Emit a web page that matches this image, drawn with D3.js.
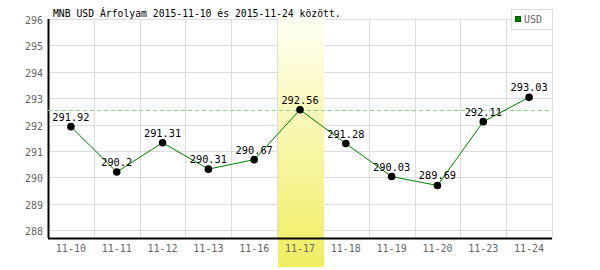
<!DOCTYPE html>
<html>
<head>
<meta charset="utf-8">
<script src="https://cdn.jsdelivr.net/npm/d3@7"></script>
<style>
  body { margin: 0; background: #fff; }
  svg text { font-family: "DejaVu Sans Mono", monospace; font-size: 10px; }
</style>
</head>
<body>
<div id="chart"></div>
<script>
// data
var days = ["11-10", "11-11", "11-12", "11-13", "11-16", "11-17", "11-18", "11-19", "11-20", "11-23", "11-24"];
var rates = [291.92, 290.2, 291.31, 290.31, 290.67, 292.56, 291.28, 290.03, 289.69, 292.11, 293.03];
var yTicks = [288, 289, 290, 291, 292, 293, 294, 295, 296];
var highlightDay = "11-17";
var refValue = 292.56;
var title = "MNB USD Árfolyam 2015-11-10 és 2015-11-24 között.";
var legendLabel = "USD";

var width = 600;
var height = 270;
// plot area edges (note: "top" is reserved on window, so prefixed names)
var plotLeft = 48, plotRight = 552, plotTop = 19, plotBottom = 238;

var svg = d3.select("#chart").append("svg")
    .attr("width", width)
    .attr("height", height);

var x = d3.scaleBand()
    .domain(days)
    .range([plotLeft, plotRight]);

var y = d3.scaleLinear()
    .domain([287.7, 296])
    .range([plotBottom, plotTop]);

// grid
svg.selectAll(".hgrid")
    .data(yTicks)
    .enter()
    .append("line")
    .attr("x1", plotLeft)
    .attr("x2", plotRight)
    .attr("y1", function(d) { return Math.round(y(d)) + 0.5; })
    .attr("y2", function(d) { return Math.round(y(d)) + 0.5; })
    .attr("stroke", "#dddddd")
    .attr("stroke-width", 1);

svg.selectAll(".vgrid")
    .data(days)
    .enter()
    .append("line")
    .attr("x1", function(d) { return Math.round(x(d) + x.bandwidth()) + 0.5; })
    .attr("x2", function(d) { return Math.round(x(d) + x.bandwidth()) + 0.5; })
    .attr("y1", plotTop)
    .attr("y2", plotBottom)
    .attr("stroke", "#dddddd")
    .attr("stroke-width", 1);

// yellow gradient for the highlighted day
var grad = svg.append("defs").append("linearGradient")
    .attr("id", "hl")
    .attr("x1", 0).attr("y1", 0)
    .attr("x2", 0).attr("y2", 1);
grad.append("stop").attr("offset", "0%").attr("stop-color", "#fffff4");
grad.append("stop").attr("offset", "100%").attr("stop-color", "#f0ee60");

svg.append("rect")
    .attr("x", Math.round(x(highlightDay)) + 1)
    .attr("y", 17)
    .attr("width", Math.round(x.bandwidth()))
    .attr("height", 250)
    .attr("fill", "url(#hl)");

// axes
svg.append("line")
    .attr("x1", plotLeft + 0.5).attr("x2", plotLeft + 0.5)
    .attr("y1", plotTop).attr("y2", plotBottom)
    .attr("stroke", "#000").attr("stroke-width", 2);

svg.append("line")
    .attr("x1", plotLeft).attr("x2", plotRight)
    .attr("y1", plotBottom + 0.5).attr("y2", plotBottom + 0.5)
    .attr("stroke", "#000").attr("stroke-width", 2);

svg.selectAll(".ylab")
    .data(yTicks)
    .enter()
    .append("text")
    .attr("x", 43)
    .attr("y", function(d) { return y(d) + 5; })
    .attr("text-anchor", "end")
    .attr("fill", "#666")
    .text(function(d) { return d; });

svg.selectAll(".xlab")
    .data(days)
    .enter()
    .append("text")
    .attr("x", function(d) { return x(d) + x.bandwidth() / 2; })
    .attr("y", 252)
    .attr("text-anchor", "middle")
    .attr("fill", "#666")
    .text(function(d) { return d; });

// reference dashed line
svg.append("line")
    .attr("x1", plotLeft).attr("x2", plotRight)
    .attr("y1", Math.round(y(refValue)) + 0.5).attr("y2", Math.round(y(refValue)) + 0.5)
    .attr("stroke", "#88d888")
    .attr("stroke-dasharray", "4,3");

// series line
var line = d3.line()
    .x(function(d, i) { return x(days[i]) + x.bandwidth() / 2; })
    .y(function(d) { return y(d); });

svg.append("path")
    .datum(rates)
    .attr("d", line)
    .attr("fill", "none")
    .attr("stroke", "#008000")
    .attr("stroke-width", 1);

svg.selectAll(".pt")
    .data(rates)
    .enter()
    .append("circle")
    .attr("cx", function(d, i) { return x(days[i]) + x.bandwidth() / 2; })
    .attr("cy", function(d) { return y(d); })
    .attr("r", 3.8)
    .attr("fill", "#000");

svg.selectAll(".val")
    .data(rates)
    .enter()
    .append("text")
    .attr("x", function(d, i) { return x(days[i]) + x.bandwidth() / 2; })
    .attr("y", function(d) { return y(d) - 6; })
    .attr("text-anchor", "middle")
    .attr("fill", "#000")
    .style("font-size", "10.3px")
    .text(function(d) { return d; });

// title
svg.append("text")
    .attr("x", 53)
    .attr("y", 17)
    .attr("fill", "#000")
    .style("font-size", "9.75px")
    .text(title);

// legend
svg.append("rect")
    .attr("x", 511.5).attr("y", 9.5)
    .attr("width", 41).attr("height", 20)
    .attr("fill", "#fff")
    .attr("stroke", "#dddddd");

svg.append("rect")
    .attr("x", 515.5).attr("y", 16.5)
    .attr("width", 5).attr("height", 5)
    .attr("fill", "#008000")
    .attr("stroke", "#005000");

svg.append("text")
    .attr("x", 524)
    .attr("y", 23)
    .attr("fill", "#666")
    .text(legendLabel);
</script>
</body>
</html>
